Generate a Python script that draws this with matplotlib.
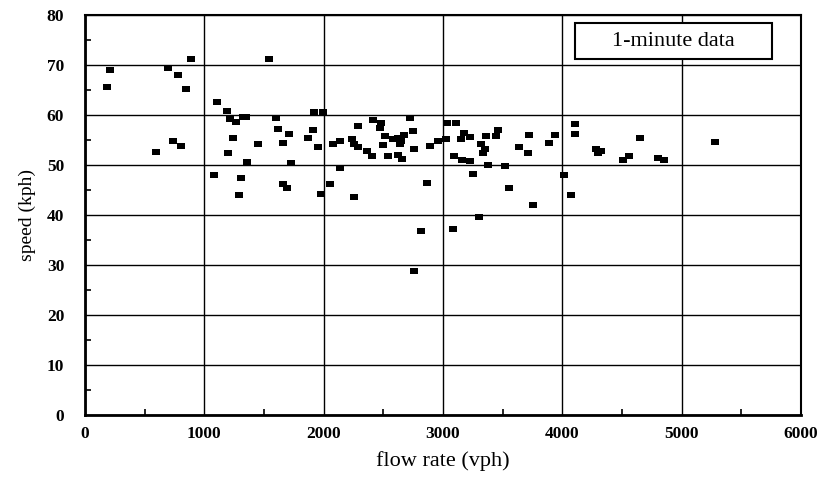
import matplotlib
matplotlib.use("Agg")
import matplotlib.pyplot as plt
from matplotlib.patches import Rectangle
from matplotlib.path import Path
from matplotlib.ticker import MultipleLocator

flow_vph = [184, 209, 597, 697, 739, 781, 806, 848, 887,
            1079, 1110, 1188, 1199, 1213, 1241, 1264, 1291, 1305, 1328, 1353,
            1361, 1448, 1545, 1601, 1618, 1663, 1663, 1693, 1707, 1730,
            1866, 1911, 1919, 1950, 1980, 1994, 2053, 2081, 2136, 2140,
            2240, 2251, 2254, 2285, 2287, 2360, 2402, 2413, 2469, 2484,
            2500, 2513, 2536, 2577, 2622, 2625, 2636, 2644, 2658, 2675,
            2722, 2747, 2753, 2753, 2812, 2862, 2887, 2954, 3021, 3035,
            3085, 3090, 3110, 3152, 3160, 3174, 3224, 3224, 3250, 3300,
            3317, 3336, 3353, 3364, 3378, 3442, 3462, 3523, 3556, 3640,
            3710, 3724, 3757, 3888, 3936, 4011, 4070, 4103, 4109, 4282,
            4296, 4324, 4505, 4561, 4655, 4803, 4854, 5280]
speed_kph = [65.5, 68.9, 52.6, 69.3, 54.8, 67.9, 53.7, 65.1, 71.2,
             48.0, 62.5, 60.8, 52.3, 59.1, 55.4, 58.6, 44.0, 47.3, 59.5, 59.5,
             50.6, 54.2, 71.1, 59.4, 57.1, 54.4, 46.1, 45.4, 56.2, 50.3,
             55.4, 56.9, 60.6, 53.5, 44.1, 60.6, 46.2, 54.2, 49.4, 54.7,
             55.2, 43.5, 54.2, 57.7, 53.5, 52.8, 51.7, 58.9, 57.4, 58.4,
             54.0, 55.7, 51.7, 55.1, 55.4, 51.9, 54.2, 54.7, 51.2, 56.0,
             59.3, 56.7, 53.2, 28.7, 36.7, 46.4, 53.7, 54.7, 55.1, 58.4,
             37.1, 51.7, 58.3, 55.1, 50.9, 56.3, 55.6, 50.7, 48.2, 39.6,
             54.1, 52.3, 53.2, 55.7, 49.9, 55.7, 56.9, 49.7, 45.3, 53.6,
             52.3, 55.9, 42.0, 54.3, 56.0, 47.9, 43.9, 56.1, 58.2, 53.1,
             52.4, 52.7, 50.9, 51.8, 55.4, 51.3, 51.0, 54.5]

x_ticks = [0, 1000, 2000, 3000, 4000, 5000, 6000]
y_ticks = [0, 10, 20, 30, 40, 50, 60, 70, 80]
legend_label = "1-minute data"
x_label = "flow rate (vph)"
y_label = "speed (kph)"

serif = ["Liberation Serif", "DejaVu Serif"]
plt.rcParams["font.family"] = serif

fig = plt.figure(figsize=(8.27, 4.78), dpi=100)
ax = fig.add_axes([85 / 827, 1 - 414.7 / 478, 716 / 827, 399.7 / 478])

rect_marker = Path([(-1, -0.75), (1, -0.75), (1, 0.75), (-1, 0.75), (-1, -0.75)],
                   [Path.MOVETO, Path.LINETO, Path.LINETO, Path.LINETO, Path.CLOSEPOLY])
ax.scatter(flow_vph, speed_kph, marker=rect_marker, s=28, c="black",
           linewidths=0, zorder=3)

ax.set_xlim(0, 6000)
ax.set_ylim(0, 80)
ax.set_xticks(x_ticks)
ax.set_yticks(y_ticks)
ax.xaxis.set_minor_locator(MultipleLocator(500))
ax.yaxis.set_minor_locator(MultipleLocator(5))
ax.grid(True, which="major", color="black", linewidth=1.0)
ax.set_axisbelow(True)

ax.tick_params(axis="both", which="major", direction="in", length=0, labelsize=12.5)
ax.tick_params(axis="both", which="minor", direction="in", length=4, width=1.2)
ax.tick_params(axis="x", which="major", pad=8)
ax.tick_params(axis="y", which="major", pad=15)
for lab in ax.get_xticklabels() + ax.get_yticklabels():
    lab.set_fontweight("bold")

for side in ["left", "bottom"]:
    ax.spines[side].set_linewidth(2.0)
for side in ["top", "right"]:
    ax.spines[side].set_linewidth(1.5)

ax.set_xlabel(x_label, fontsize=16, labelpad=7)
ax.set_ylabel(y_label, fontsize=14, labelpad=8)

bx0, bx1 = (575 - 85) / 716, (772 - 85) / 716
by0, by1 = (414.7 - 59.3) / 399.7, (414.7 - 23.3) / 399.7
ax.add_patch(Rectangle((bx0, by0), bx1 - bx0, by1 - by0, transform=ax.transAxes,
                       facecolor="white", edgecolor="black", linewidth=1.5,
                       zorder=4, clip_on=False))
ax.text((bx0 + bx1) / 2, (by0 + by1) / 2, legend_label, transform=ax.transAxes,
        ha="center", va="center", fontsize=16, zorder=5)

fig.savefig("out.png", dpi=100)
